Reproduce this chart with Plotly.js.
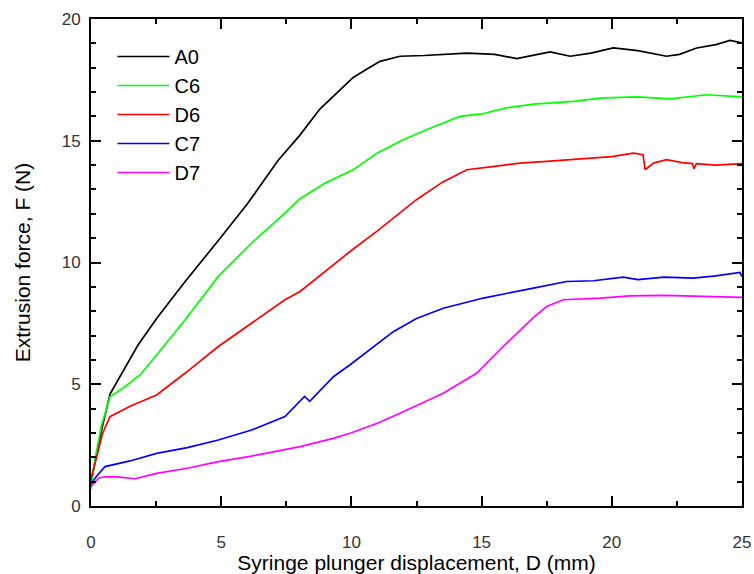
<!DOCTYPE html>
<html>
<head>
<meta charset="utf-8">
<script src="https://cdn.plot.ly/plotly-3.0.1.min.js"></script>
<style>html,body{margin:0;padding:0;background:#fff;}#chart{width:754px;height:574px;}</style>
</head>
<body>
<div id="chart"></div>
<script>
// Series names
const seriesNames = ["A0", "C6", "D6", "C7", "D7"];
const seriesColors = ["#000000", "#00ff00", "#ff0000", "#0000ff", "#ff00ff"];

// A0
const a0X = [0, 0.15, 0.4, 0.73, 1.2, 1.8, 2.52, 3.6, 4.89, 6.0, 7.19, 8.0, 8.79, 9.5, 10.07, 10.6, 11.1, 11.87, 12.8, 14.43, 15.5, 16.35, 17.0, 17.63, 18.4, 19.2, 20.06, 21.0, 22.1, 22.6, 23.26, 24.0, 24.54, 25];
const a0Y = [1.0, 1.8, 3.1, 4.6, 5.5, 6.6, 7.7, 9.2, 10.9, 12.4, 14.2, 15.2, 16.3, 17.0, 17.6, 17.95, 18.26, 18.47, 18.5, 18.6, 18.55, 18.37, 18.5, 18.65, 18.47, 18.6, 18.81, 18.7, 18.47, 18.55, 18.81, 18.95, 19.12, 19.02];

// C6
const c6X = [0, 0.15, 0.4, 0.73, 1.31, 1.9, 2.52, 3.61, 4.89, 5.5, 6.17, 7.45, 8.0, 8.99, 10.07, 11.0, 11.99, 13.0, 14.17, 15.0, 15.96, 17.0, 18.52, 19.67, 21.0, 22.24, 23.64, 25];
const c6Y = [0.7, 1.9, 3.3, 4.49, 4.9, 5.4, 6.2, 7.64, 9.43, 10.1, 10.8, 12.03, 12.6, 13.26, 13.81, 14.5, 15.04, 15.5, 16.0, 16.1, 16.35, 16.5, 16.62, 16.76, 16.8, 16.72, 16.89, 16.8];

// D6
const d6X = [0, 0.2, 0.45, 0.73, 1.5, 2.52, 3.61, 4.89, 6.17, 7.45, 8.03, 9.31, 9.95, 11.0, 12.5, 13.5, 14.43, 15.5, 16.47, 17.5, 19.03, 20.0, 20.83, 21.2, 21.28, 21.6, 22.1, 22.7, 23.1, 23.15, 23.25, 24.0, 25];
const d6Y = [1.1, 2.0, 3.0, 3.67, 4.1, 4.56, 5.45, 6.55, 7.51, 8.47, 8.81, 9.9, 10.45, 11.3, 12.58, 13.3, 13.81, 13.95, 14.08, 14.15, 14.29, 14.35, 14.49, 14.43, 13.81, 14.08, 14.22, 14.1, 14.06, 13.85, 14.06, 14.0, 14.06];

// C7
const c7X = [0, 0.2, 0.54, 1.5, 2.52, 3.7, 4.89, 6.17, 7.45, 8.03, 8.2, 8.4, 9.31, 9.95, 10.8, 11.61, 12.5, 13.53, 15.07, 16.0, 16.99, 18.27, 19.3, 20.44, 21.0, 22.0, 23.13, 24.0, 24.92, 25];
const c7Y = [0.9, 1.2, 1.62, 1.85, 2.16, 2.4, 2.71, 3.12, 3.67, 4.29, 4.5, 4.3, 5.31, 5.8, 6.5, 7.16, 7.7, 8.12, 8.54, 8.75, 8.95, 9.22, 9.25, 9.4, 9.3, 9.4, 9.36, 9.45, 9.59, 9.42];

// D7
const d7X = [0, 0.3, 0.54, 1.0, 1.69, 2.52, 3.7, 4.89, 6.17, 7.45, 8.03, 9.31, 9.95, 11.0, 11.87, 13.53, 14.81, 15.83, 16.47, 17.0, 17.5, 18.14, 19.55, 20.7, 22.0, 23.9, 25];
const d7Y = [0.8, 1.15, 1.2, 1.2, 1.12, 1.34, 1.55, 1.82, 2.05, 2.3, 2.44, 2.78, 2.99, 3.4, 3.81, 4.63, 5.45, 6.55, 7.23, 7.75, 8.19, 8.47, 8.54, 8.63, 8.65, 8.6, 8.57];

// Axis ticks
const xTicks = [0, 5, 10, 15, 20, 25];
const yTicks = [0, 5, 10, 15, 20];

const xs = [a0X, c6X, d6X, c7X, d7X];
const ys = [a0Y, c6Y, d6Y, c7Y, d7Y];

const traces = seriesNames.map((name, i) => ({
  type: "scatter",
  mode: "lines",
  name: name,
  x: xs[i],
  y: ys[i],
  line: {color: seriesColors[i], width: 1.7}
}));

const axisCommon = {
  showgrid: false,
  zeroline: false,
  showline: true,
  linecolor: "#000",
  linewidth: 2,
  mirror: "allticks",
  ticks: "inside",
  ticklen: 10,
  tickwidth: 2,
  tickcolor: "#000",
  tickfont: {family: "Liberation Sans, Arial, sans-serif", size: 17, color: "#333"}
};

const layout = {
  width: 754,
  height: 574,
  paper_bgcolor: "#fff",
  plot_bgcolor: "#fff",
  margin: {l: 91, r: 12, t: 19, b: 68},
  showlegend: true,
  legend: {
    x: 0.033, y: 0.963, xanchor: "left", yanchor: "top",
    bgcolor: "rgba(0,0,0,0)",
    borderwidth: 0,
    itemwidth: 52,
    font: {family: "Liberation Sans, Arial, sans-serif", size: 20, color: "#000"}
  },
  xaxis: Object.assign({}, axisCommon, {
    range: [0, 25],
    tickvals: xTicks,
    ticktext: xTicks.map(String),
    ticklabelstandoff: 20,
    minor: {ticks: "inside", ticklen: 5, tickwidth: 2, tickcolor: "#000", dtick: 2.5, showgrid: false},
    title: {text: "Syringe plunger displacement, D (mm)",
      font: {family: "Liberation Sans, Arial, sans-serif", size: 21, color: "#000"}}
  }),
  yaxis: Object.assign({}, axisCommon, {
    range: [0, 20],
    tickvals: yTicks,
    ticktext: yTicks.map(String),
    ticklabelstandoff: 5,
    minor: {ticks: "inside", ticklen: 5, tickwidth: 2, tickcolor: "#000", dtick: 1, showgrid: false},
    title: {text: "Extrusion force, F (N)", standoff: 25,
      font: {family: "Liberation Sans, Arial, sans-serif", size: 21, color: "#000"}}
  })
};

Plotly.newPlot("chart", traces, layout, {displayModeBar: false, staticPlot: true});
</script>
</body>
</html>
